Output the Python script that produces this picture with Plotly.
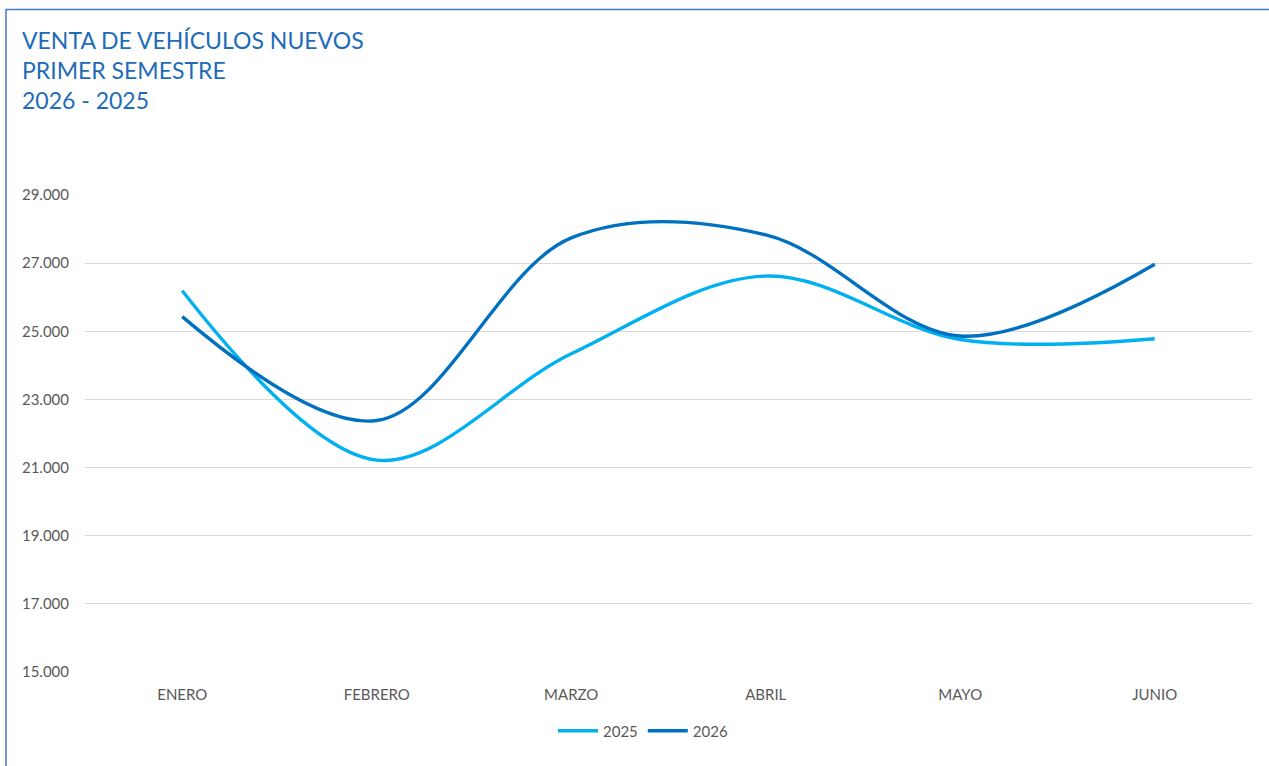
import plotly.graph_objects as go

meses = ["ENERO", "FEBRERO", "MARZO", "ABRIL", "MAYO", "JUNIO"]
ventas_2025 = [26190, 21220, 24340, 26620, 24760, 24780]
ventas_2026 = [25430, 22380, 27740, 27830, 24860, 26970]
y_ticks = [15000, 17000, 19000, 21000, 23000, 25000, 27000, 29000]

font_fam = "Lato, 'Open Sans', sans-serif"
gris = "#595959"

fig = go.Figure()
fig.add_trace(go.Scatter(x=meses, y=ventas_2025, name="2025", mode="lines",
                         line=dict(color="#00B0F0", width=3.4, shape="spline", smoothing=1)))
fig.add_trace(go.Scatter(x=meses, y=ventas_2026, name="2026", mode="lines",
                         line=dict(color="#0070C0", width=3.4, shape="spline", smoothing=1)))

fig.update_layout(
    width=1269, height=766,
    margin=dict(l=85, r=17, t=195, b=94),
    paper_bgcolor="white", plot_bgcolor="white",
    separators=",.",
    font=dict(family=font_fam, size=15, color=gris),
    title=dict(text="VENTA DE VEHÍCULOS NUEVOS<br>PRIMER SEMESTRE<br>2026 - 2025",
               x=22/1269, xanchor="left", xref="container",
               y=1 - 49/766, yanchor="top", yref="container",
               font=dict(family=font_fam, size=23, color="#1E6BB8")),
    legend=dict(orientation="h", x=643/1269, xanchor="center", xref="container",
                y=35/766, yanchor="middle", yref="container",
                font=dict(size=15, color=gris), itemwidth=40),
    showlegend=True,
)

fig.update_xaxes(range=[-0.5, 5.5], showgrid=False, showline=False, zeroline=False,
                 ticks="", ticklabelstandoff=12, tickfont=dict(size=15, color=gris))
fig.update_yaxes(range=[15000, 29000], tickvals=y_ticks, tickformat=",d",
                 showgrid=True, gridcolor="#D9D9D9", gridwidth=1, zeroline=False,
                 showline=False, ticks="", ticklabelstandoff=15,
                 tickfont=dict(size=15, color=gris))

# marco del gráfico
fig.add_shape(type="rect", xref="paper", yref="paper",
              x0=(6 - 85) / 1167, x1=1.1, y0=-0.4, y1=(672 - 9.5) / 477,
              line=dict(color="#3F7EC4", width=1.5), layer="above")

fig.write_html("out.html", config={"displayModeBar": False},
               post_script="document.body.style.margin='0';")
